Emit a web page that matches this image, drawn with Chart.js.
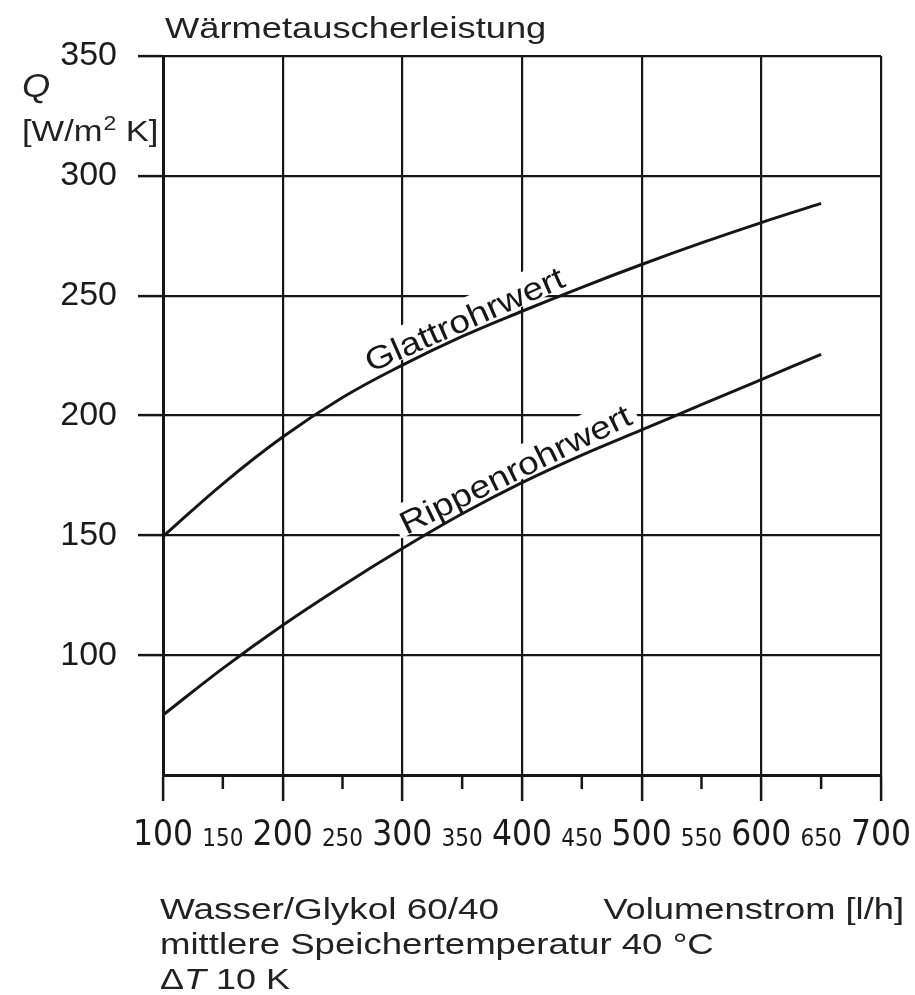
<!DOCTYPE html>
<html>
<head>
<meta charset="utf-8">
<script src="https://cdn.jsdelivr.net/npm/chart.js@4.4.1/dist/chart.umd.min.js"></script>
<style>
  html, body { margin: 0; padding: 0; background: #fff; }
  canvas { display: block; }
</style>
</head>
<body>
<canvas id="chart" width="915" height="995"></canvas>
<script>
// Volumenstrom [l/h]
const volumes = [100, 150, 200, 250, 300, 350, 400, 450, 500, 550, 600, 650];
// Q [W/m2 K]
const glattrohr = [149.5, 171.5, 191, 207.5, 221, 233, 243.5, 253.5, 263, 272, 280.5, 288.5];
const rippenrohr = [75, 94.5, 112.5, 129, 144.5, 159, 172, 183.5, 194, 204.5, 215, 225.5];

const curveNames = ["Glattrohrwert", "Rippenrohrwert"];
const curveLabelAt = [357, 400];
const notes = ["Wasser/Glykol 60/40", "mittlere Speichertemperatur 40 °C"];

const INK = "#161616";
const FONT = "'Liberation Sans', Arial, Helvetica, sans-serif";
const NARROW = "'Liberation Sans Narrow', 'Arial Narrow', 'DejaVu Sans Condensed', sans-serif";

function valueAt(xs, ys, x) {
    for (let i = 0; i < xs.length - 1; i++) {
        if (x >= xs[i] && x <= xs[i + 1]) {
            let t = (x - xs[i]) / (xs[i + 1] - xs[i]);
            return ys[i] + t * (ys[i + 1] - ys[i]);
        }
    }
    return ys[ys.length - 1];
}

function wideText(ctx, text, x, y, font, sx, align) {
    ctx.save();
    ctx.font = font;
    let w = ctx.measureText(text).width * sx;
    ctx.translate(align === "right" ? x - w : x, y);
    ctx.scale(sx, 1);
    ctx.textAlign = "left";
    ctx.textBaseline = "alphabetic";
    ctx.fillText(text, 0, 0);
    ctx.restore();
    return w;
}

// labels sitting on the curves, with a white box cutting the grid
const curveLabels = {
    id: "curveLabels",
    beforeDatasetsDraw(chart) {
        const ctx = chart.ctx;
        const xs = chart.scales.x, ys = chart.scales.y;
        [glattrohr, rippenrohr].forEach((series, i) => {
            let xv = curveLabelAt[i];
            let x1 = xs.getPixelForValue(xv - 30), y1 = ys.getPixelForValue(valueAt(volumes, series, xv - 30));
            let x2 = xs.getPixelForValue(xv + 30), y2 = ys.getPixelForValue(valueAt(volumes, series, xv + 30));
            let px = xs.getPixelForValue(xv), py = ys.getPixelForValue(valueAt(volumes, series, xv));
            let angle = Math.atan2(y2 - y1, x2 - x1);
            ctx.save();
            ctx.translate(px, py);
            ctx.rotate(angle);
            ctx.font = "32px " + FONT;
            let sx = 1.16;
            let w = ctx.measureText(curveNames[i]).width * sx;
            ctx.fillStyle = "#fff";
            ctx.fillRect(-w / 2 - 6, -35, w + 12, 32);
            ctx.scale(sx, 1);
            ctx.fillStyle = INK;
            ctx.textAlign = "center";
            ctx.fillText(curveNames[i], 0, -4);
            ctx.restore();
        });
    }
};

const extras = {
    id: "extras",
    afterDraw(chart) {
        const ctx = chart.ctx;
        const xs = chart.scales.x;

        // short ticks at the 50s
        ctx.save();
        ctx.strokeStyle = INK;
        ctx.lineWidth = 2.5;
        ctx.beginPath();
        xs.ticks.forEach(t => {
            if (t.value % 100 !== 0) {
                let px = xs.getPixelForValue(t.value);
                ctx.moveTo(px, xs.top);
                ctx.lineTo(px, xs.top + 14);
            }
        });
        ctx.stroke();
        ctx.restore();

        ctx.save();
        ctx.fillStyle = "#222";
        // title
        wideText(ctx, "Wärmetauscherleistung", 165, 38, "30px " + FONT, 1.21);

        // y unit
        wideText(ctx, "Q", 22, 97, "italic 33px " + FONT, 1.1);
        let w = wideText(ctx, "[W/m", 22, 141, "30px " + FONT, 1.15);
        let w2 = wideText(ctx, "2", 22 + w + 1, 130, "20px " + FONT, 1.15);
        wideText(ctx, " K]", 22 + w + w2 + 1, 141, "30px " + FONT, 1.15);

        // notes under the axis
        wideText(ctx, notes[0], 160, 919, "30px " + FONT, 1.23);
        wideText(ctx, "Volumenstrom [l/h]", 904, 919, "30px " + FONT, 1.21, "right");
        wideText(ctx, notes[1], 160, 954, "30px " + FONT, 1.22);
        let d = wideText(ctx, "Δ", 160, 989, "30px " + FONT, 1.2);
        let t = wideText(ctx, "T", 160 + d, 989, "italic 30px " + FONT, 1.2);
        wideText(ctx, " 10 K", 160 + d + t, 989, "30px " + FONT, 1.2);
        ctx.restore();
    }
};

new Chart(document.getElementById("chart"), {
    type: "line",
    data: {
        datasets: [
            {
                label: curveNames[0],
                data: volumes.map((v, i) => ({ x: v, y: glattrohr[i] })),
                borderColor: INK,
                borderWidth: 3,
                pointRadius: 0,
                fill: false,
                tension: 0.4
            },
            {
                label: curveNames[1],
                data: volumes.map((v, i) => ({ x: v, y: rippenrohr[i] })),
                borderColor: INK,
                borderWidth: 3,
                pointRadius: 0,
                fill: false,
                tension: 0.4
            }
        ]
    },
    options: {
        responsive: false,
        animation: false,
        devicePixelRatio: 1,
        layout: { padding: { left: 0, right: 31, top: 56, bottom: 0 } },
        plugins: {
            legend: { display: false },
            tooltip: { enabled: false }
        },
        scales: {
            x: {
                type: "linear",
                min: 100,
                max: 700,
                afterFit: s => { s.height = 220; },
                border: { color: INK, width: 3 },
                grid: {
                    color: c => c.tick && c.tick.value % 100 === 0 ? INK : "rgba(0,0,0,0)",
                    lineWidth: 2.2,
                    tickLength: 26,
                    tickWidth: 2.5,
                    tickColor: c => c.tick && c.tick.value % 100 === 0 ? INK : "rgba(0,0,0,0)"
                },
                ticks: {
                    stepSize: 50,
                    autoSkip: false,
                    maxRotation: 0,
                    padding: 4,
                    color: "#1a1a1a",
                    font: c => c.tick && c.tick.value % 100 === 0
                        ? { family: NARROW, size: 35, lineHeight: 1.76 }
                        : { family: NARROW, size: 24, lineHeight: 2.89 },
                    callback: v => String(v)
                }
            },
            y: {
                min: 50,
                max: 350,
                afterFit: s => { s.width = 163; },
                border: { color: INK, width: 3 },
                grid: {
                    color: INK,
                    lineWidth: 2.2,
                    tickLength: 25,
                    tickWidth: 2.5,
                    tickColor: c => c.tick && c.tick.value === 50 ? "rgba(0,0,0,0)" : INK
                },
                ticks: {
                    stepSize: 50,
                    padding: 21,
                    color: "#1a1a1a",
                    font: { family: FONT, size: 34 },
                    callback: v => v === 50 ? "" : String(v)
                }
            }
        }
    },
    plugins: [curveLabels, extras]
});
</script>
</body>
</html>
